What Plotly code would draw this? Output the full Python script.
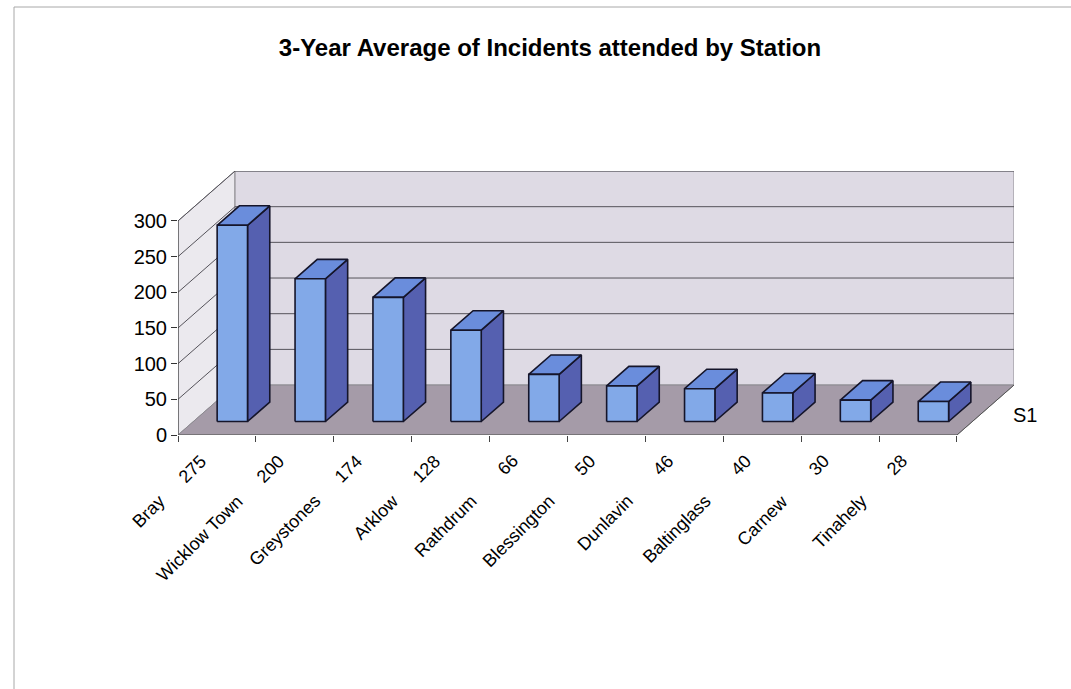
import plotly.graph_objects as go

# ---------------- data ----------------
stations = ["Bray", "Wicklow Town", "Greystones", "Arklow", "Rathdrum",
            "Blessington", "Dunlavin", "Baltinglass", "Carnew", "Tinahely"]
incidents = [275, 200, 174, 128, 66, 50, 46, 40, 30, 28]
y_ticks = [0, 50, 100, 150, 200, 250, 300]
series_name = "S1"
title_text = "3-Year Average of Incidents attended by Station"

# ---------------- 3D geometry (in axis units) ----------------
Y_MAX = 300
DX = 0.732        # depth offset along x (category units)
DY = 70.0         # depth offset along y (value units)
BAR_W = 0.39
D0, D1 = 0.27, 0.66
n = len(stations)
x_lo, x_hi = -0.5, n - 0.5

FONT = "Liberation Sans, Arial, sans-serif"

fig = go.Figure()

shapes = []
# left side wall
shapes.append(dict(type="path", xref="x", yref="y", layer="below",
                   path=f"M {x_lo},0 L {x_lo},{Y_MAX} L {x_lo+DX},{Y_MAX+DY} L {x_lo+DX},{DY} Z",
                   fillcolor="#ebe9ee", line=dict(color="#8c8a90", width=1)))
# back wall
shapes.append(dict(type="path", xref="x", yref="y", layer="below",
                   path=f"M {x_lo+DX},{DY} L {x_hi+DX},{DY} L {x_hi+DX},{Y_MAX+DY} L {x_lo+DX},{Y_MAX+DY} Z",
                   fillcolor="#dedae4", line=dict(color="#8c8a90", width=1)))
# floor
shapes.append(dict(type="path", xref="x", yref="y", layer="below",
                   path=f"M {x_lo},0 L {x_hi},0 L {x_hi+DX},{DY} L {x_lo+DX},{DY} Z",
                   fillcolor="#a59ba8", line=dict(color="#8c8a90", width=1)))
# gridlines on walls
for t in y_ticks[1:]:
    shapes.append(dict(type="line", xref="x", yref="y", layer="below",
                       x0=x_lo, y0=t, x1=x_lo + DX, y1=t + DY,
                       line=dict(color="#55535a", width=1)))
    shapes.append(dict(type="line", xref="x", yref="y", layer="below",
                       x0=x_lo + DX, y0=t + DY, x1=x_hi + DX, y1=t + DY,
                       line=dict(color="#55535a", width=1)))
# axis lines
shapes.append(dict(type="line", xref="x", yref="y", x0=x_lo, y0=0, x1=x_lo, y1=Y_MAX,
                   line=dict(color="#333333", width=1)))
shapes.append(dict(type="line", xref="x", yref="y", x0=x_lo, y0=0, x1=x_hi, y1=0,
                   line=dict(color="#555555", width=1)))
shapes.append(dict(type="line", xref="x", yref="y", x0=x_hi, y0=0, x1=x_hi + DX, y1=DY,
                   line=dict(color="#555555", width=1)))
# depth axis tick
shapes.append(dict(type="line", xref="x", yref="y", x0=x_hi + DX, y0=DY, x1=x_hi + DX + 0.12, y1=DY,
                   line=dict(color="#555555", width=1)))

# chart-area border (scanned page frame)
L_M, R_M, T_M, B_M = 178, 57, 171, 254
PW, PH = 1071 - L_M - R_M, 689 - T_M - B_M
def px_x(p):
    return (p - L_M) / PW
def px_y(p):
    return (689 - B_M - p) / PH
shapes.append(dict(type="line", xref="paper", yref="paper", x0=px_x(14), y0=px_y(7), x1=px_x(1071), y1=px_y(7),
                   line=dict(color="#a8a8a8", width=1)))
shapes.append(dict(type="line", xref="paper", yref="paper", x0=px_x(14), y0=px_y(7), x1=px_x(14), y1=px_y(689),
                   line=dict(color="#a8a8a8", width=1)))

# ---------------- bars ----------------
bdx = (D1 - D0) * DX
bdy = (D1 - D0) * DY
front_x, front_y, side_x, side_y, top_x, top_y = [], [], [], [], [], []
for i, v in enumerate(incidents):
    xl = i - BAR_W / 2 + D0 * DX
    xr = xl + BAR_W
    yb = D0 * DY
    yt = yb + v
    front_x += [xl, xr, xr, xl, xl, None]
    front_y += [yb, yb, yt, yt, yb, None]
    side_x += [xr, xr + bdx, xr + bdx, xr, xr, None]
    side_y += [yb, yb + bdy, yt + bdy, yt, yb, None]
    top_x += [xl, xr, xr + bdx, xl + bdx, xl, None]
    top_y += [yt, yt, yt + bdy, yt + bdy, yt, None]

edge = dict(color="#15152a", width=1.6)
fig.add_trace(go.Scatter(x=side_x, y=side_y, mode="lines", fill="toself",
                         fillcolor="#5560b0", line=edge, hoverinfo="skip", showlegend=False))
fig.add_trace(go.Scatter(x=top_x, y=top_y, mode="lines", fill="toself",
                         fillcolor="#6a8ddc", line=edge, hoverinfo="skip", showlegend=False))
fig.add_trace(go.Scatter(x=front_x, y=front_y, mode="lines", fill="toself",
                         fillcolor="#82a9e8", line=edge, hoverinfo="skip", showlegend=False))

# ---------------- labels ----------------
annotations = []
for i, (name, v) in enumerate(zip(stations, incidents)):
    annotations.append(dict(x=i, y=0, xref="x", yref="y", text=str(v), showarrow=False,
                            textangle=-45, xanchor="right", yanchor="top",
                            xshift=-4, yshift=-13, font=dict(family=FONT, size=18, color="black")))
    annotations.append(dict(x=i, y=0, xref="x", yref="y", text=name, showarrow=False,
                            textangle=-45, xanchor="right", yanchor="top",
                            xshift=-45, yshift=-53, font=dict(family=FONT, size=18, color="black")))
annotations.append(dict(x=x_hi + DX / 2, y=DY / 2, xref="x", yref="y", text=series_name,
                        showarrow=False, xanchor="center", yanchor="middle", xshift=40, yshift=-5,
                        font=dict(family=FONT, size=20, color="black")))

fig.update_layout(
    width=1071, height=689,
    margin=dict(l=L_M, r=R_M, t=T_M, b=B_M),
    paper_bgcolor="white", plot_bgcolor="white",
    title=dict(text=f"<b>{title_text}</b>", x=550 / 1071, xref="container", xanchor="center",
               y=1 - 48 / 689, yref="container", yanchor="middle",
               font=dict(family=FONT, size=24, color="black")),
    xaxis=dict(range=[x_lo, x_hi + DX], showgrid=False, zeroline=False, showline=False,
               tickvals=[k - 0.5 for k in range(n + 1)], ticks="outside", ticklen=6,
               tickcolor="#444444", showticklabels=False, fixedrange=True),
    yaxis=dict(range=[0, Y_MAX + DY], showgrid=False, zeroline=False, showline=False,
               tickvals=y_ticks, ticks="outside", ticklen=6, tickcolor="#333333",
               tickfont=dict(family=FONT, size=20, color="black"), fixedrange=True),
    shapes=shapes,
    annotations=annotations,
    showlegend=False,
)

fig.write_html("out.html")
